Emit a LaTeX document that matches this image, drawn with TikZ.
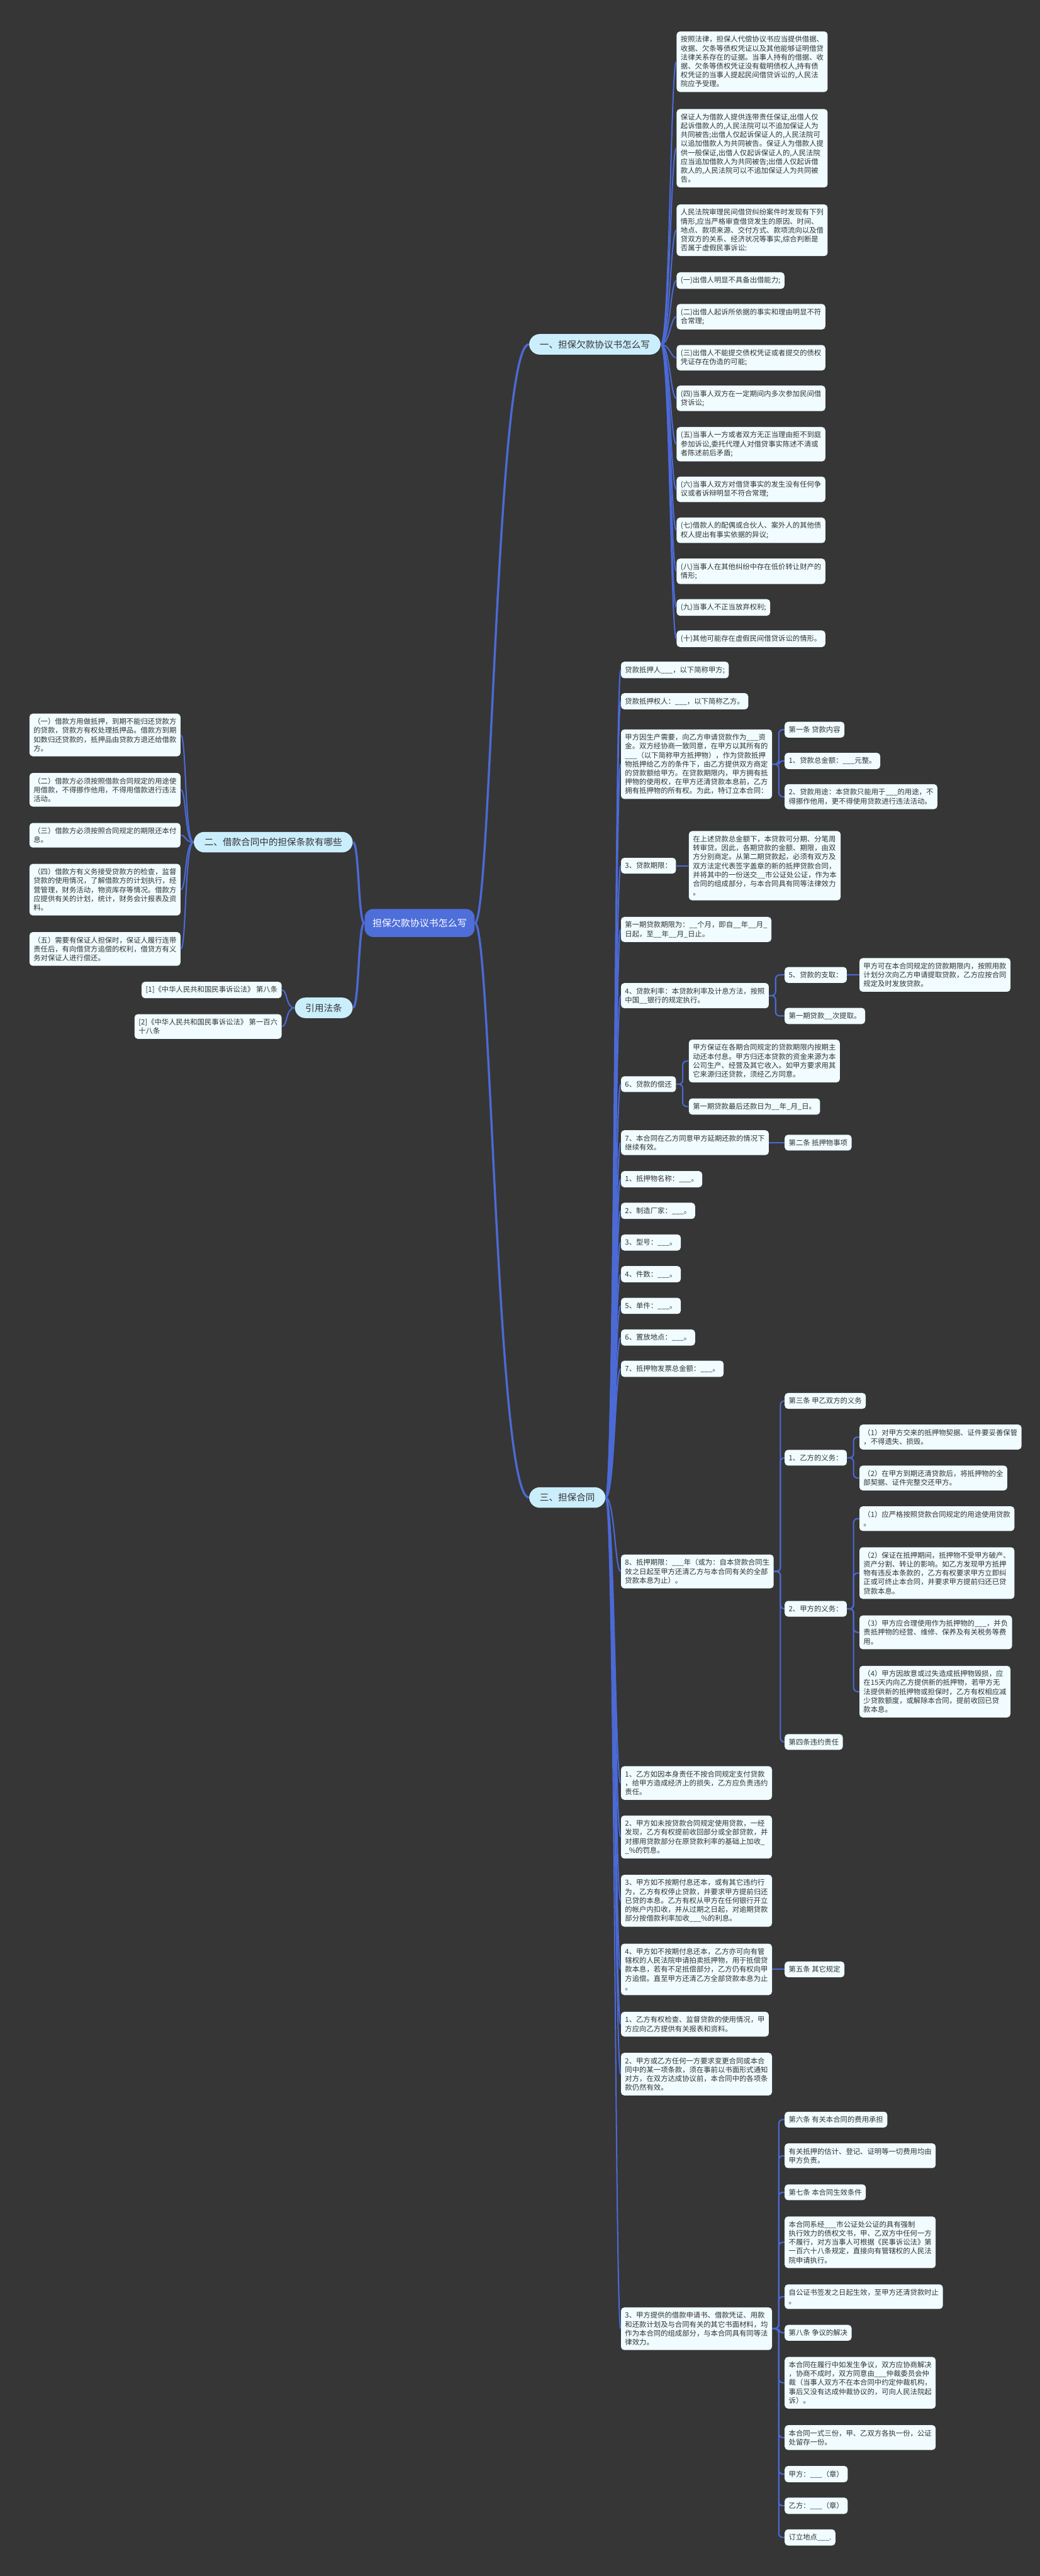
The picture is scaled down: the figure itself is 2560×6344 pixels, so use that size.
\documentclass[tikz,border=0pt]{standalone}
\usepackage{fontspec}
\setmainfont{Noto Sans CJK SC}
\definecolor{bgcol}{RGB}{54,54,54}
\definecolor{leaffill}{RGB}{240,252,255}
\definecolor{brfill}{RGB}{203,238,252}
\definecolor{rootfill}{RGB}{78,110,218}
\definecolor{lncol}{RGB}{76,106,214}
\definecolor{txtcol}{RGB}{51,51,51}
\tikzset{
 leaf/.style={fill=leaffill, rounded corners=2.3pt, inner xsep=2.85pt, inner ysep=3.2pt, align=left, font=\fontsize{5pt}{6.26pt}\selectfont, text=txtcol},
 brn/.style={fill=brfill, rounded corners=7.4pt, inner xsep=7.4pt, inner ysep=4.2pt, font=\fontsize{6.43pt}{8pt}\selectfont, text=txtcol},
 rootn/.style={fill=rootfill, rounded corners=6pt, minimum width=77pt, minimum height=19.6pt, font=\fontsize{6.6pt}{8pt}\selectfont, text=white},
 conn/.style={draw=lncol, line width=0.9pt},
 rconn/.style={draw=lncol, line width=1.5pt},
}
\newcommand\mmR[2]{\draw[conn] (#1.east) .. controls +(22,0) and +(-14,0) .. (#2.west);}
\newcommand\mmL[2]{\draw[conn] (#1.west) .. controls +(-22,0) and +(14,0) .. (#2.east);}
\newcommand\mmE[2]{\draw[conn,rounded corners=2.8pt] (#1.east) -- ++(16,0) |- (#2.west);}
\newcommand\mmS[2]{\draw[conn] (#1.east) -- (#2.west);}
\begin{document}
\begin{tikzpicture}[x=0.01cm,y=-0.01cm]
\fill[bgcol] (0,0) rectangle (2560,6344);
\useasboundingbox (0,0) rectangle (2560,6344);

% root and branches
\node[rootn] (root) at (1033,2273) {担保欠款协议书怎么写};
\node[brn,anchor=west] (b1) at (1302,848) {一、担保欠款协议书怎么写};
\node[brn,anchor=east] (b2) at (869,2074) {二、借款合同中的担保条款有哪些};
\node[brn,anchor=east] (b4) at (869,2482) {引用法条};
\node[brn,anchor=west] (b3) at (1302,3688) {三、担保合同};

\draw[rconn] (root.east) .. controls +(40,0) and +(-80,0) .. (b1.west);
\draw[rconn] (root.east) .. controls +(40,0) and +(-80,0) .. (b3.west);
\draw[rconn] (root.west) .. controls +(-15,0) and +(15,0) .. (b2.east);
\draw[rconn] (root.west) .. controls +(-15,0) and +(15,0) .. (b4.east);

% section one
\node[leaf,anchor=west] (a1) at (1665,152) {按照法律，担保人代偿协议书应当提供借据、\\收据、欠条等债权凭证以及其他能够证明借贷\\法律关系存在的证据。当事人持有的借据、收\\据、欠条等债权凭证没有载明债权人,持有债\\权凭证的当事人提起民间借贷诉讼的,人民法\\院应予受理。};
\node[leaf,anchor=west] (a2) at (1665,365) {保证人为借款人提供连带责任保证,出借人仅\\起诉借款人的,人民法院可以不追加保证人为\\共同被告;出借人仅起诉保证人的,人民法院可\\以追加借款人为共同被告。保证人为借款人提\\供一般保证,出借人仅起诉保证人的,人民法院\\应当追加借款人为共同被告;出借人仅起诉借\\款人的,人民法院可以不追加保证人为共同被\\告。};
\node[leaf,anchor=west] (a3) at (1665,567) {人民法院审理民间借贷纠纷案件时发现有下列\\情形,应当严格审查借贷发生的原因、时间、\\地点、款项来源、交付方式、款项流向以及借\\贷双方的关系、经济状况等事实,综合判断是\\否属于虚假民事诉讼:};
\node[leaf,anchor=west] (a4) at (1665,691) {(一)出借人明显不具备出借能力;};
\node[leaf,anchor=west] (a5) at (1665,780) {(二)出借人起诉所依据的事实和理由明显不符\\合常理;};
\node[leaf,anchor=west] (a6) at (1665,881) {(三)出借人不能提交债权凭证或者提交的债权\\凭证存在伪造的可能;};
\node[leaf,anchor=west] (a7) at (1665,981) {(四)当事人双方在一定期间内多次参加民间借\\贷诉讼;};
\node[leaf,anchor=west] (a8) at (1665,1094) {(五)当事人一方或者双方无正当理由拒不到庭\\参加诉讼,委托代理人对借贷事实陈述不清或\\者陈述前后矛盾;};
\node[leaf,anchor=west] (a9) at (1665,1205) {(六)当事人双方对借贷事实的发生没有任何争\\议或者诉辩明显不符合常理;};
\node[leaf,anchor=west] (a10) at (1665,1306) {(七)借款人的配偶或合伙人、案外人的其他债\\权人提出有事实依据的异议;};
\node[leaf,anchor=west] (a11) at (1665,1407) {(八)当事人在其他纠纷中存在低价转让财产的\\情形;};
\node[leaf,anchor=west] (a12) at (1665,1496) {(九)当事人不正当放弃权利;};
\node[leaf,anchor=west] (a13) at (1665,1573) {(十)其他可能存在虚假民间借贷诉讼的情形。};
\foreach \i in {1,...,13} {\mmR{b1}{a\i}}

% section two
\node[leaf,anchor=east] (c1) at (445,1810) {（一）借款方用做抵押，到期不能归还贷款方\\的贷款，贷款方有权处理抵押品。借款方到期\\如数归还贷款的，抵押品由贷款方退还给借款\\方。};
\node[leaf,anchor=east] (c2) at (445,1945) {（二）借款方必须按照借款合同规定的用途使\\用借款，不得挪作他用，不得用借款进行违法\\活动。};
\node[leaf,anchor=east] (c3) at (445,2057) {（三）借款方必须按照合同规定的期限还本付\\息。};
\node[leaf,anchor=east] (c4) at (445,2191) {（四）借款方有义务接受贷款方的检查，监督\\贷款的使用情况，了解借款方的计划执行，经\\营管理，财务活动，物资库存等情况。借款方\\应提供有关的计划，统计，财务会计报表及资\\料。};
\node[leaf,anchor=east] (c5) at (445,2337) {（五）需要有保证人担保时，保证人履行连带\\责任后，有向借贷方追偿的权利，借贷方有义\\务对保证人进行偿还。};
\foreach \i in {1,...,5} {\mmL{b2}{c\i}}

\node[leaf,anchor=east] (r1) at (694,2438) {[1]《中华人民共和国民事诉讼法》 第八条};
\node[leaf,anchor=east] (r2) at (694,2528) {[2]《中华人民共和国民事诉讼法》 第一百六\\十八条};
\mmL{b4}{r1}
\mmL{b4}{r2}

% section three, level 2
\node[leaf,anchor=west] (s1) at (1528,1650) {贷款抵押人\_\_\_，以下简称甲方;};
\node[leaf,anchor=west] (s2) at (1528,1727) {贷款抵押权人：\_\_\_，以下简称乙方。};
\node[leaf,anchor=west] (s3) at (1528,1882) {甲方因生产需要，向乙方申请贷款作为\_\_\_资\\金。双方经协商一致同意，在甲方以其所有的\\\_\_\_（以下简称甲方抵押物），作为贷款抵押\\物抵押给乙方的条件下，由乙方提供双方商定\\的贷款额给甲方。在贷款期限内，甲方拥有抵\\押物的使用权，在甲方还清贷款本息前，乙方\\拥有抵押物的所有权。为此，特订立本合同：};
\node[leaf,anchor=west] (s4) at (1528,2132) {3、贷款期限：};
\node[leaf,anchor=west] (s5) at (1528,2289) {第一期贷款期限为：\_\_个月，即自\_\_年\_\_月\_\\日起，至\_\_年\_\_月\_日止。};
\node[leaf,anchor=west] (s6) at (1528,2452) {4、贷款利率：本贷款利率及计息方法，按照\\中国\_\_银行的规定执行。};
\node[leaf,anchor=west] (s7) at (1528,2670) {6、贷款的偿还};
\node[leaf,anchor=west] (s8) at (1528,2814) {7、本合同在乙方同意甲方延期还款的情况下\\继续有效。};
\node[leaf,anchor=west] (s9) at (1528,2904) {1、抵押物名称：\_\_\_。};
\node[leaf,anchor=west] (s10) at (1528,2982) {2、制造厂家：\_\_\_。};
\node[leaf,anchor=west] (s11) at (1528,3060) {3、型号：\_\_\_。};
\node[leaf,anchor=west] (s12) at (1528,3138) {4、件数：\_\_\_。};
\node[leaf,anchor=west] (s13) at (1528,3216) {5、单件：\_\_\_。};
\node[leaf,anchor=west] (s14) at (1528,3294) {6、置放地点：\_\_\_。};
\node[leaf,anchor=west] (s15) at (1528,3371) {7、抵押物发票总金额：\_\_\_。};
\node[leaf,anchor=west] (s16) at (1528,3870) {8、抵押期限：\_\_\_年（或为：自本贷款合同生\\效之日起至甲方还清乙方与本合同有关的全部\\贷款本息为止）。};
\node[leaf,anchor=west] (s17) at (1528,4391) {1、乙方如因本身责任不按合同规定支付贷款\\，给甲方造成经济上的损失，乙方应负责违约\\责任。};
\node[leaf,anchor=west] (s18) at (1528,4524) {2、甲方如未按贷款合同规定使用贷款，一经\\发现，乙方有权提前收回部分或全部贷款，并\\对挪用贷款部分在原贷款利率的基础上加收\_\\\_\%的罚息。};
\node[leaf,anchor=west] (s19) at (1528,4681) {3、甲方如不按期付息还本，或有其它违约行\\为，乙方有权停止贷款，并要求甲方提前归还\\已贷的本息。乙方有权从甲方在任何银行开立\\的帐户内扣收，并从过期之日起，对逾期贷款\\部分按借款利率加收\_\_\_\%的利息。};
\node[leaf,anchor=west] (s20) at (1528,4850) {4、甲方如不按期付息还本，乙方亦可向有管\\辖权的人民法院申请拍卖抵押物，用于抵偿贷\\款本息，若有不足抵偿部分，乙方仍有权向甲\\方追偿。直至甲方还清乙方全部贷款本息为止\\。};
\node[leaf,anchor=west] (s21) at (1528,4985) {1、乙方有权检查、监督贷款的使用情况，甲\\方应向乙方提供有关报表和资料。};
\node[leaf,anchor=west] (s22) at (1528,5108) {2、甲方或乙方任何一方要求变更合同或本合\\同中的某一项条款，须在事前以书面形式通知\\对方，在双方达成协议前，本合同中的各项条\\款仍然有效。};
\node[leaf,anchor=west] (s23) at (1528,5735) {3、甲方提供的借款申请书、借款凭证、用款\\和还款计划及与合同有关的其它书面材料，均\\作为本合同的组成部分，与本合同具有同等法\\律效力。};
\foreach \i in {1,...,23} {\mmR{b3}{s\i}}

% level 3 under s3
\node[leaf,anchor=west] (t1) at (1931,1797) {第一条 贷款内容};
\node[leaf,anchor=west] (t2) at (1931,1874) {1、贷款总金额：\_\_\_元整。};
\node[leaf,anchor=west] (t3) at (1931,1962) {2、贷款用途：本贷款只能用于\_\_\_的用途，不\\得挪作他用，更不得使用贷款进行违法活动。};
\mmE{s3}{t1}\mmE{s3}{t2}\mmE{s3}{t3}

% s4 child
\node[leaf,anchor=west] (t4) at (1695,2132) {在上述贷款总金额下，本贷款可分期、分笔周\\转审贷。因此，各期贷款的金额、期限，由双\\方分别商定。从第二期贷款起，必须有双方及\\双方法定代表签字盖章的新的抵押贷款合同，\\并将其中的一份送交\_\_市公证处公证，作为本\\合同的组成部分，与本合同具有同等法律效力\\。};
\mmS{s4}{t4}

% s6 children
\node[leaf,anchor=west] (t5) at (1931,2401) {5、贷款的支取：};
\node[leaf,anchor=west] (t6) at (1931,2502) {第一期贷款\_\_次提取。};
\mmE{s6}{t5}\mmE{s6}{t6}
\node[leaf,anchor=west] (u0) at (2115,2401) {甲方可在本合同规定的贷款期限内，按照用款\\计划分次向乙方申请提取贷款，乙方应按合同\\规定及时发放贷款。};
\mmS{t5}{u0}

% s7 children
\node[leaf,anchor=west] (t7) at (1695,2613) {甲方保证在各期合同规定的贷款期限内按期主\\动还本付息。甲方归还本贷款的资金来源为本\\公司生产、经营及其它收入。如甲方要求用其\\它来源归还贷款，须经乙方同意。};
\node[leaf,anchor=west] (t8) at (1695,2725) {第一期贷款最后还款日为\_\_年\_月\_日。};
\mmE{s7}{t7}\mmE{s7}{t8}

% s8 child
\node[leaf,anchor=west] (t9) at (1931,2814) {第二条 抵押物事项};
\mmS{s8}{t9}

% s16 children
\node[leaf,anchor=west] (k1) at (1931,3450) {第三条 甲乙双方的义务};
\node[leaf,anchor=west] (k2) at (1931,3590) {1、乙方的义务：};
\node[leaf,anchor=west] (k3) at (1931,3962) {2、甲方的义务：};
\node[leaf,anchor=west] (k4) at (1931,4290) {第四条违约责任};
\mmE{s16}{k1}\mmE{s16}{k2}\mmE{s16}{k3}\mmE{s16}{k4}
\node[leaf,anchor=west] (u1) at (2115,3539) {（1）对甲方交来的抵押物契据、证件要妥善保管\\，不得遗失、损毁。};
\node[leaf,anchor=west] (u2) at (2115,3640) {（2）在甲方到期还清贷款后，将抵押物的全\\部契据、证件完整交还甲方。};
\mmE{k2}{u1}\mmE{k2}{u2}
\node[leaf,anchor=west] (u3) at (2115,3740) {（1）应严格按照贷款合同规定的用途使用贷款\\。};
\node[leaf,anchor=west] (u4) at (2115,3874) {（2）保证在抵押期间，抵押物不受甲方破产、\\资产分割、转让的影响。如乙方发现甲方抵押\\物有违反本条款的，乙方有权要求甲方立即纠\\正或可终止本合同，并要求甲方提前归还已贷\\贷款本息。};
\node[leaf,anchor=west] (u5) at (2115,4020) {（3）甲方应合理使用作为抵押物的\_\_\_，并负\\责抵押物的经营、维修、保养及有关税务等费\\用。};
\node[leaf,anchor=west] (u6) at (2115,4166) {（4）甲方因故意或过失造成抵押物毁损，应\\在15天内向乙方提供新的抵押物，若甲方无\\法提供新的抵押物或担保时，乙方有权相应减\\少贷款额度，或解除本合同，提前收回已贷\\款本息。};
\mmE{k3}{u3}\mmE{k3}{u4}\mmE{k3}{u5}\mmE{k3}{u6}

% s20 child
\node[leaf,anchor=west] (t10) at (1931,4850) {第五条 其它规定};
\mmS{s20}{t10}

% s23 children
\node[leaf,anchor=west] (v1) at (1931,5220) {第六条 有关本合同的费用承担};
\node[leaf,anchor=west] (v2) at (1931,5309) {有关抵押的估计、登记、证明等一切费用均由\\甲方负责。};
\node[leaf,anchor=west] (v3) at (1931,5399) {第七条 本合同生效条件};
\node[leaf,anchor=west] (v4) at (1931,5522) {本合同系经\_\_\_市公证处公证的具有强制\\执行效力的债权文书，甲、乙双方中任何一方\\不履行，对方当事人可根据《民事诉讼法》第\\一百六十八条规定，直接向有管辖权的人民法\\院申请执行。};
\node[leaf,anchor=west] (v5) at (1931,5656) {自公证书签发之日起生效，至甲方还清贷款时止\\。};
\node[leaf,anchor=west] (v6) at (1931,5745) {第八条 争议的解决};
\node[leaf,anchor=west] (v7) at (1931,5868) {本合同在履行中如发生争议，双方应协商解决\\，协商不成时，双方同意由\_\_\_仲裁委员会仲\\裁（当事人双方不在本合同中约定仲裁机构，\\事后又没有达成仲裁协议的，可向人民法院起\\诉）。};
\node[leaf,anchor=west] (v8) at (1931,6003) {本合同一式三份，甲、乙双方各执一份，公证\\处留存一份。};
\node[leaf,anchor=west] (v9) at (1931,6093) {甲方：\_\_\_（章）};
\node[leaf,anchor=west] (v10) at (1931,6171) {乙方：\_\_\_（章）};
\node[leaf,anchor=west] (v11) at (1931,6249) {订立地点\_\_\_.};
\foreach \i in {1,...,11} {\mmE{s23}{v\i}}
\end{tikzpicture}
\end{document}
